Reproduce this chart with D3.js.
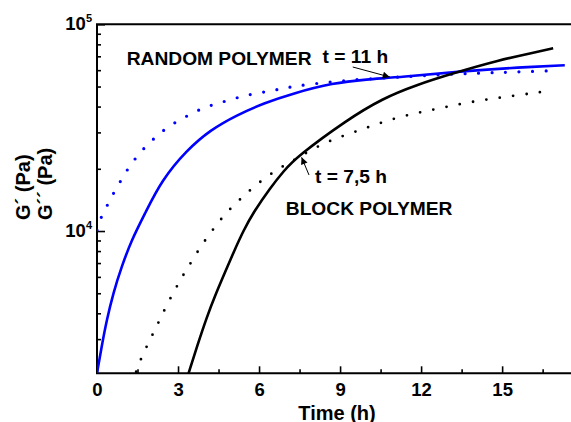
<!DOCTYPE html>
<html>
<head>
<meta charset="utf-8">
<script src="https://cdn.jsdelivr.net/npm/d3@7"></script>
<style>
body { margin: 0; background: #fff; }
svg text { font-family: Arial, "Liberation Sans", sans-serif; font-weight: bold; fill: #000; }
</style>
</head>
<body>
<svg width="571" height="422"></svg>
<script>
// values (time in h, modulus in Pa)
var randomGpT = [0, 0.17, 0.36, 0.60, 0.91, 1.28, 1.78, 2.40, 3.33, 4.19, 5.18, 6.17, 7.28, 8.73, 9.98, 11.21, 13.68, 16.15, 17.32];
var randomGpV = [2050, 2755, 3710, 5000, 6720, 9050, 12180, 17650, 24650, 30800, 36400, 41500, 46400, 52000, 54200, 55400, 59650, 62400, 63350];

var randomGppT = [0, 0.15, 0.37, 0.59, 0.84, 1.11, 1.40, 1.73, 2.10, 2.47, 2.90, 3.33, 3.76, 4.23, 4.69, 5.18, 5.67, 6.35, 6.85, 7.34, 8.36, 9.36, 11.0, 13.17, 14.54, 15.53, 16.94];
var randomGppV = [10100, 11730, 13210, 15100, 17130, 19730, 22300, 25100, 27960, 30800, 33570, 36000, 38500, 40700, 42200, 44150, 45850, 47400, 48800, 50300, 52170, 53760, 55400, 57500, 58300, 58800, 59650];

var blockGpT = [3.39, 3.70, 4.07, 4.38, 4.75, 5.06, 5.43, 5.80, 6.41, 6.91, 7.40, 9.24, 10.58, 11.83, 13.17, 14.91, 16.15, 16.89];
var blockGpV = [2050, 2755, 3850, 4900, 6360, 7910, 10100, 12360, 16140, 19510, 22880, 34400, 43850, 50900, 57900, 67200, 72900, 76500];

var blockGppT = [1.45, 1.64, 1.88, 2.12, 2.36, 2.60, 2.86, 3.07, 3.29, 3.52, 3.76, 4.01, 4.26, 4.75, 5.37, 5.98, 6.72, 7.27, 8.01, 8.75, 9.55, 10.35, 11.21, 12.08, 12.94, 13.83, 14.73, 15.63, 16.54];
var blockGppV = [2086, 2440, 2830, 3280, 3800, 4440, 5110, 5750, 6430, 7180, 8090, 9050, 10030, 12180, 14550, 17130, 20100, 21900, 25100, 27800, 30200, 32900, 35700, 37800, 39900, 42100, 43850, 45500, 47200];

var xMajorTicks = [0, 3, 6, 9, 12, 15];
var xMinorTicks = [1.5, 4.5, 7.5, 10.5, 13.5, 16.5];
var yMajorTicks = [10000, 100000];
var yMinorTicks = [3000, 4000, 5000, 6000, 7000, 8000, 9000, 20000, 30000, 40000, 50000, 60000, 70000, 80000, 90000];

// annotations: [label, t, value]
var labels = [
  ["RANDOM POLYMER", 1.10, 63550],
  ["t = 11 h", 8.35, 65300],
  ["t = 7,5 h", 8.07, 17070],
  ["BLOCK POLYMER", 6.99, 11950]
];
// arrows: [tail t, tail value, tip t, tip value]
var arrows = [
  [9.47, 62150, 10.84, 55600],
  [7.85, 18660, 7.575, 22730]
];

var svg = d3.select("svg"),
    margin = {top: 24.3, right: 0, bottom: 48.7, left: 97},
    width = +svg.attr("width") - margin.left - margin.right,
    height = +svg.attr("height") - margin.top - margin.bottom,
    g = svg.append("g").attr("transform", "translate(" + margin.left + "," + margin.top + ")");

var x = d3.scaleLinear()
    .domain([0, 17.55])
    .range([0, width]);

var y = d3.scaleLog()
    .domain([2050, 100000])
    .range([height, 0]);

svg.append("defs").append("clipPath")
    .attr("id", "plotClip")
  .append("rect")
    .attr("x", 0).attr("y", 0)
    .attr("width", width).attr("height", height);

svg.select("defs").append("marker")
    .attr("id", "arrowHead")
    .attr("viewBox", "0 0 10 10")
    .attr("refX", 10).attr("refY", 5)
    .attr("markerWidth", 9).attr("markerHeight", 7)
    .attr("markerUnits", "userSpaceOnUse")
    .attr("orient", "auto")
  .append("path")
    .attr("d", "M0,0 L10,5 L0,10 z")
    .attr("fill", "#000");

// x axis, ticks pointing inward
g.append("g")
    .attr("id", "xAxis")
    .attr("transform", "translate(0," + height + ")")
    .call(d3.axisBottom(x).tickValues(xMajorTicks).tickSize(-7).tickPadding(9.6).tickFormat(d3.format("d")))
    .call(function(a) { a.select(".domain").remove(); });

g.append("g")
    .attr("transform", "translate(0," + height + ")")
    .call(d3.axisBottom(x).tickValues(xMinorTicks).tickSize(-4).tickFormat(""))
    .call(function(a) { a.select(".domain").remove(); });

// y axis
g.append("g")
    .attr("id", "yAxis")
    .call(d3.axisLeft(y).tickValues(yMajorTicks).tickSize(-8).tickPadding(5).tickFormat(""))
    .call(function(a) { a.select(".domain").remove(); });

g.append("g")
    .call(d3.axisLeft(y).tickValues(yMinorTicks).tickSize(-4).tickFormat(""))
    .call(function(a) { a.select(".domain").remove(); });

g.selectAll(".tick line").attr("stroke", "#000").attr("stroke-width", 1.6);
g.selectAll("#xAxis .tick text")
    .attr("font-size", 18.5)
    .attr("font-family", "Arial, 'Liberation Sans', sans-serif")
    .attr("font-weight", "bold")
    .attr("fill", "#000");

// y tick labels as 10^n
var yLab = g.append("g").selectAll("text")
    .data(yMajorTicks)
  .enter().append("text")
    .attr("x", -5)
    .attr("y", function(d) { return y(d) + 6; })
    .attr("text-anchor", "end")
    .attr("font-size", 18.5);
yLab.append("tspan").text("10");
yLab.append("tspan")
    .attr("font-size", 11)
    .attr("dy", -8)
    .text(function(d) { return Math.round(Math.log10(d)); });

// frame (right side runs off the picture)
g.append("path")
    .attr("d", "M" + (width + 5) + ",0 H0 V" + height + " H" + (width + 5))
    .attr("fill", "none")
    .attr("stroke", "#000")
    .attr("stroke-width", 2);

function toPts(ts, vs) {
  return ts.map(function(t, i) { return {t: t, v: vs[i]}; });
}

var line = d3.line()
    .curve(d3.curveBasis)
    .x(function(d) { return x(d.t); })
    .y(function(d) { return y(d.v); });

var curves = g.append("g").attr("clip-path", "url(#plotClip)");

curves.append("path")
    .attr("id", "randomGpp")
    .datum(toPts(randomGppT, randomGppV))
    .attr("fill", "none")
    .attr("stroke", "#0000ff")
    .attr("stroke-width", 3.2)
    .attr("stroke-linecap", "round")
    .attr("stroke-dasharray", "0 13.5")
    .attr("d", line);

curves.append("path")
    .attr("id", "blockGpp")
    .datum(toPts(blockGppT, blockGppV))
    .attr("fill", "none")
    .attr("stroke", "#000")
    .attr("stroke-width", 2.8)
    .attr("stroke-linecap", "round")
    .attr("stroke-dasharray", "0 13.5")
    .attr("d", line);

curves.append("path")
    .attr("id", "randomGp")
    .datum(toPts(randomGpT, randomGpV))
    .attr("fill", "none")
    .attr("stroke", "#0000ff")
    .attr("stroke-width", 2.6)
    .attr("d", line);

curves.append("path")
    .attr("id", "blockGp")
    .datum(toPts(blockGpT, blockGpV))
    .attr("fill", "none")
    .attr("stroke", "#000")
    .attr("stroke-width", 2.6)
    .attr("d", line);

// annotations
g.selectAll(".note")
    .data(labels)
  .enter().append("text")
    .attr("class", "note")
    .attr("x", function(d) { return x(d[1]); })
    .attr("y", function(d) { return y(d[2]); })
    .attr("font-size", 19.2)
    .text(function(d) { return d[0]; });

g.selectAll(".arrow")
    .data(arrows)
  .enter().append("line")
    .attr("class", "arrow")
    .attr("x1", function(d) { return x(d[0]); })
    .attr("y1", function(d) { return y(d[1]); })
    .attr("x2", function(d) { return x(d[2]); })
    .attr("y2", function(d) { return y(d[3]); })
    .attr("stroke", "#000")
    .attr("stroke-width", 1)
    .attr("marker-end", "url(#arrowHead)");

// axis titles
svg.append("text")
    .attr("x", margin.left + 240)
    .attr("y", 419.5)
    .attr("text-anchor", "middle")
    .attr("font-size", 20)
    .text("Time (h)");

svg.append("text")
    .attr("transform", "translate(30,220) rotate(-90)")
    .attr("font-size", 20)
    .text("G\u00b4 (Pa)");

svg.append("text")
    .attr("transform", "translate(52,220) rotate(-90)")
    .attr("font-size", 20)
    .text("G\u00b4\u00b4 (Pa)");
</script>
</body>
</html>
